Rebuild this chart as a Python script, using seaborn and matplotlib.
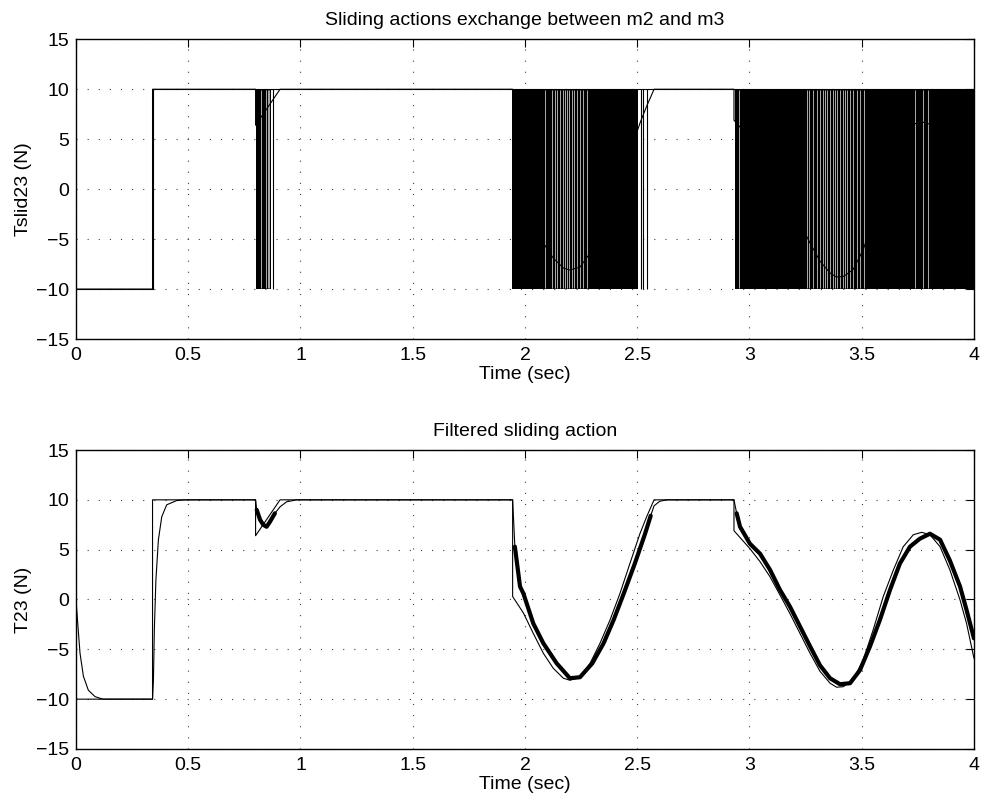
import matplotlib
matplotlib.use("Agg")
import matplotlib.pyplot as plt
import seaborn as sns

# --- data ------------------------------------------------------------------

# switching action, base levels outside the chattering bands
u_t = [0.0, 0.345, 0.345, 4.0]
u_v = [-10, -10, 10, 10]

# chattering bands (switching too fast to resolve -> solid)
band_start = [0.802, 1.941, 2.935]
band_end = [0.867, 2.505, 4.0]
# isolated switches just after a band
switch_t = [0.879, 2.515, 2.527, 2.542]
# white slits visible inside the bands
gap_t = [0.826, 0.846, 0.855, 0.861,
         2.089, 2.119, 2.134, 2.144, 2.156, 2.168, 2.178, 2.189, 2.198,
         2.208, 2.219, 2.230, 2.245, 2.260, 2.275,
         2.955, 3.255, 3.267, 3.285, 3.300, 3.314, 3.326, 3.338, 3.347,
         3.359, 3.371, 3.381, 3.392, 3.403, 3.415, 3.425, 3.436, 3.448,
         3.462, 3.478, 3.492, 3.510, 3.737, 3.771, 3.796]

# equivalent (reference) action, thin line
eq_t = [0.0, 0.341, 0.341, 0.800, 0.800, 0.909, 1.945, 1.945, 1.993, 2.037,
        2.082, 2.126, 2.171, 2.200, 2.245, 2.290, 2.334, 2.379, 2.423, 2.468,
        2.512, 2.542, 2.575, 2.931, 2.931, 3.002, 3.047, 3.091, 3.136, 3.180,
        3.225, 3.270, 3.314, 3.359, 3.388, 3.418, 3.462, 3.507, 3.551, 3.596,
        3.641, 3.685, 3.730, 3.767, 3.804, 3.849, 3.893, 3.938, 3.967, 4.0]
eq_v = [-10, -10, 10, 10, 6.4, 10, 10, 0.3, -1.35, -3.4,
        -5.4, -6.9, -7.9, -8.1, -7.8, -6.4, -4.4, -2.05, 0.6, 3.65,
        6.6, 8.3, 10, 10, 6.9, 5.1, 3.8, 2.3, 0.45, -1.4,
        -3.4, -5.4, -7.2, -8.4, -8.8, -8.75, -8.05, -6.05, -3.05, 0.3,
        2.96, 5.3, 6.5, 6.74, 6.5, 5.3, 2.96, -0.05, -2.4, -5.9]

# filtered sliding action: smooth parts
filt_t1 = [0.0, 0.010, 0.018, 0.033, 0.055, 0.085, 0.120, 0.341, 0.345,
           0.349, 0.356, 0.367, 0.382, 0.404, 0.449, 0.490, 0.800, 0.805]
filt_v1 = [0, -3.05, -5.4, -7.7, -9.1, -9.75, -10, -10, -8.05,
           -3.05, 1.96, 5.97, 8.3, 9.5, 9.93, 10, 10, 9.0]
filt_t2 = [0.886, 0.909, 0.938, 0.983, 1.945, 1.955]
filt_v2 = [8.65, 9.3, 9.8, 10, 10, 5.3]
filt_t3 = [2.560, 2.575, 2.600, 2.631, 2.931, 2.943]
filt_v3 = [8.4, 9.4, 9.85, 10, 10, 8.65]

# filtered sliding action: noisy parts
noisy_t1 = [0.805, 0.820, 0.834, 0.849, 0.864, 0.886]
noisy_v1 = [9.0, 8.0, 7.5, 7.3, 7.8, 8.65]
noisy_t2 = [1.955, 1.978, 1.993, 2.037, 2.082, 2.141, 2.200, 2.245, 2.300,
            2.350, 2.395, 2.440, 2.490, 2.535, 2.560]
noisy_v2 = [5.3, 1.3, 0.6, -2.4, -4.4, -6.4, -7.9, -7.8, -6.4,
            -4.4, -2.05, 0.6, 3.65, 6.6, 8.4]
noisy_t3 = [2.943, 2.958, 3.002, 3.047, 3.091, 3.136, 3.180, 3.225, 3.270,
            3.314, 3.359, 3.403, 3.448, 3.492, 3.537, 3.581, 3.626, 3.670,
            3.715, 3.759, 3.804, 3.849, 3.893, 3.938, 3.967, 4.0]
noisy_v3 = [8.65, 7.3, 5.6, 4.6, 3.0, 0.96, -0.7, -2.7, -4.7,
            -6.6, -7.9, -8.5, -8.4, -7.1, -4.7, -2.05, 0.96, 3.6,
            5.3, 6.1, 6.6, 6.0, 3.9, 1.3, -1.05, -3.9]

x_ticks = [0, 0.5, 1, 1.5, 2, 2.5, 3, 3.5, 4]
x_tick_labels = ["0", "0.5", "1", "1.5", "2", "2.5", "3", "3.5", "4"]
y_ticks = [-15, -10, -5, 0, 5, 10, 15]
y_tick_labels = ["\u221215", "\u221210", "\u22125", "0", "5", "10", "15"]

# --- style -----------------------------------------------------------------
sns.set_theme(style="white")
BLACK = "#000000"  # seaborn remaps "k" to a dark grey
plt.rcParams["font.family"] = ["Liberation Sans", "DejaVu Sans"]
plt.rcParams["lines.scale_dashes"] = False
plt.rcParams["text.color"] = BLACK
plt.rcParams["axes.labelcolor"] = BLACK
plt.rcParams["xtick.color"] = BLACK
plt.rcParams["ytick.color"] = BLACK

FS = 14
LW = 0.8


def line(ax, t, v, lw=LW):
    sns.lineplot(x=t, y=v, ax=ax, color=BLACK, lw=lw, estimator=None,
                 sort=False, legend=False)


def style_axes(ax, title, ylabel):
    ax.set_xlim(0, 4)
    ax.set_ylim(-15, 15)
    ax.set_xticks(x_ticks)
    ax.set_xticklabels(x_tick_labels)
    ax.set_yticks(y_ticks)
    ax.set_yticklabels(y_tick_labels)
    ax.grid(True, color="#404040", lw=0.8, linestyle=(0, (0.8, 7.2)))
    ax.set_axisbelow(True)
    ax.tick_params(direction="in", length=6, width=0.8, colors=BLACK,
                   top=True, right=True, labelsize=FS, pad=6)
    ax.tick_params(axis="y", pad=5)
    for s in ax.spines.values():
        s.set_color(BLACK)
        s.set_linewidth(1.0)
    ax.set_title(title, fontsize=FS, pad=10, color=BLACK)
    ax.set_xlabel("Time (sec)", fontsize=FS, labelpad=1, color=BLACK)
    ax.set_ylabel(ylabel, fontsize=FS, labelpad=3, color=BLACK)


fig = plt.figure(figsize=(9.83, 8.02), dpi=100)
ax1 = fig.add_axes([0.0773, 0.5773, 0.9135, 0.3737])
ax2 = fig.add_axes([0.0773, 0.0661, 0.9135, 0.3728])

# --- top: sliding action exchange ------------------------------------------
line(ax1, u_t, u_v)
for a, b in zip(band_start, band_end):
    ax1.fill_between([a, b], [-10, -10], [10, 10], color=BLACK,
                     lw=0, antialiased=False)
ax1.vlines(switch_t, -10, 10, color=BLACK, lw=LW)
ax1.vlines(gap_t, -9.9, 9.9, color="#d8d8d8", lw=0.55)
line(ax1, eq_t, eq_v)
style_axes(ax1, "Sliding actions exchange between m2 and m3", "Tslid23 (N)")

# --- bottom: filtered action -----------------------------------------------
line(ax2, eq_t, eq_v)
for t, v in [(filt_t1, filt_v1), (filt_t2, filt_v2), (filt_t3, filt_v3)]:
    line(ax2, t, v)
for t, v in [(noisy_t1, noisy_v1), (noisy_t2, noisy_v2), (noisy_t3, noisy_v3)]:
    line(ax2, t, v, lw=3.0)
style_axes(ax2, "Filtered sliding action", "T23 (N)")

fig.savefig("out.png", dpi=100)
